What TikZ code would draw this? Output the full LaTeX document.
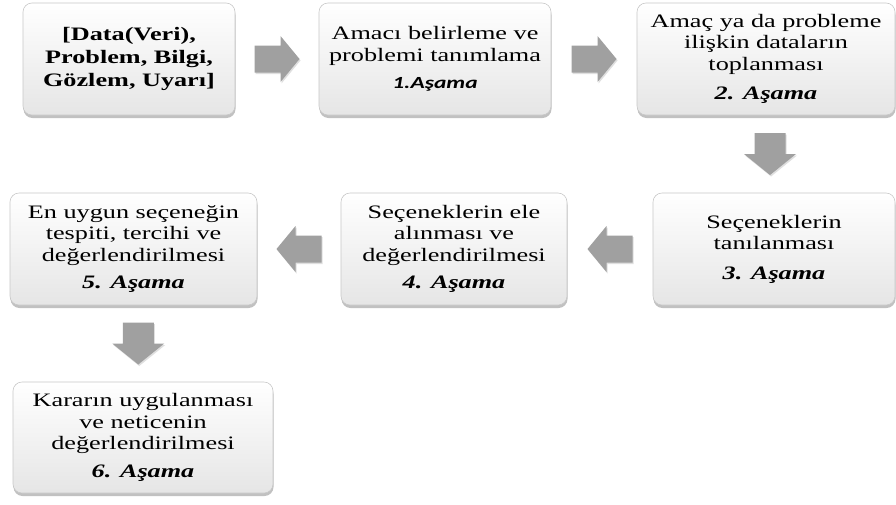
\documentclass[tikz,border=0pt]{standalone}
\usepackage{fontspec}
\setmainfont[FakeStretch=1.38]{Liberation Serif}
\newfontfamily\calfont[FakeStretch=1.38]{Carlito}
\usetikzlibrary{calc,shadows}
\definecolor{boxline}{RGB}{200,200,200}
\definecolor{arrowgray}{RGB}{160,160,160}

\begin{document}
\begin{tikzpicture}[x=1pt,y=-1pt,
    stage/.style={rounded corners=9pt,draw=boxline,line width=.6pt,
      top color=white,bottom color=black!10,
      drop shadow={shadow xshift=.5pt,shadow yshift=-3pt,fill=black!60,opacity=.4},
      align=center,inner sep=0pt,minimum height=112pt,
      font=\fontsize{19}{21.5}\selectfont},
    rarrow/.pic={\fill[arrowgray,drop shadow={shadow xshift=1pt,shadow yshift=-1.5pt,opacity=.25}]
      (-22.5,13.5) -- (3.5,13.5) -- (3.5,23) -- (22.5,0) -- (3.5,-23) -- (3.5,-13.5) -- (-22.5,-13.5) -- cycle;},
    darrow/.pic={\fill[arrowgray,drop shadow={shadow xshift=1pt,shadow yshift=-1.5pt,opacity=.25}]
      (-15.5,-21) -- (15.5,-21) -- (15.5,0) -- (26,0) -- (0,21) -- (-26,0) -- (-15.5,0) -- cycle;}]
    \tikzstyle{asama}=[font=\bfseries\itshape]

    \fill[white] (0,0) rectangle (896,504);
    \useasboundingbox (0,0) rectangle (896,504);

    % first row
    \node[stage,minimum width=212pt,font=\fontsize{19}{23}\selectfont\bfseries] (veri) at (129,59)
      {[Data(Veri),\\ Problem, Bilgi,\\ Gözlem, Uyarı]};
    \node[stage,minimum width=232pt] (amac) at (435,59)
      {Amacı belirleme ve\\ problemi tanımlama\\[6pt]
       {\calfont\bfseries\itshape\fontsize{17}{20}\selectfont 1.Aşama}};
    \node[stage,minimum width=258pt] (toplama) at (766,59)
      {Amaç ya da probleme\\ ilişkin dataların\\ toplanması\\[8pt] \textbf{\textit{2. Aşama}}};

    % second row
    \node[stage,minimum width=242pt] (tanilama) at (774,249)
      {Seçeneklerin\\ tanılanması\\[8pt] \textbf{\textit{3. Aşama}}};
    \node[stage,minimum width=226pt] (ele) at (454,249)
      {Seçeneklerin ele\\ alınması ve\\ değerlendirilmesi\\[6pt] \textbf{\textit{4. Aşama}}};
    \node[stage,minimum width=247pt] (tercih) at (133.5,249)
      {En uygun seçeneğin\\ tespiti, tercihi ve\\ değerlendirilmesi\\[6pt] \textbf{\textit{5. Aşama}}};

    % last box
    \node[stage,minimum width=260pt,minimum height=111pt] (uygulama) at (143,437.5)
      {Kararın uygulanması\\ ve neticenin\\ değerlendirilmesi\\[6pt] \textbf{\textit{6. Aşama}}};

    % block arrows
    \pic at ($(veri.east)!.5!(amac.west)$) {rarrow};
    \pic at ($(amac.east)!.5!(toplama.west)$) {rarrow};
    \pic at ($(toplama.south)!.5!(tanilama.north)$) {darrow};
    \pic[rotate=180] at ($(tanilama.west)!.5!(ele.east)$) {rarrow};
    \pic[rotate=180] at ($(ele.west)!.5!(tercih.east)$) {rarrow};
    \pic at ($(tercih.south)!.5!(uygulama.north)$) {darrow};

\end{tikzpicture}
\end{document}
